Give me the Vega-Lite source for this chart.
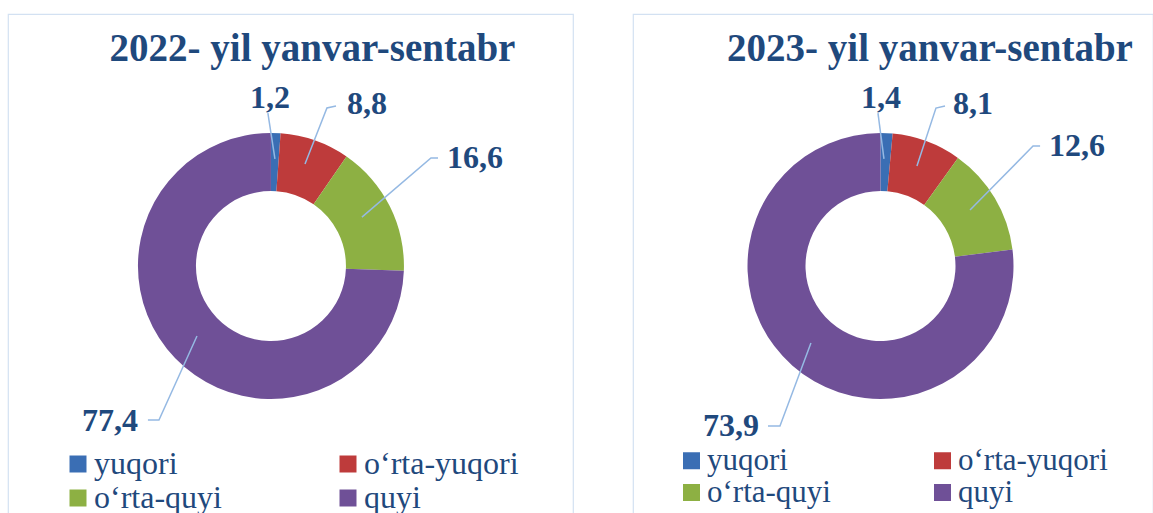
{
  "$schema": "https://vega.github.io/schema/vega-lite/v6.json",
  "padding": {"left": 7, "top": 13, "right": 0, "bottom": 0},
  "background": "white",
  "spacing": 58,
  "config": {"view": {"stroke": "#D3E1F2", "strokeWidth": 1.2}, "font": "Liberation Serif"},
  "datasets": {
    "slices": [
      {"year": 2022, "cat": "yuqori", "ord": 1, "value": 1.2},
      {"year": 2022, "cat": "o‘rta-yuqori", "ord": 2, "value": 8.8},
      {"year": 2022, "cat": "o‘rta-quyi", "ord": 3, "value": 16.6},
      {"year": 2022, "cat": "quyi", "ord": 4, "value": 77.4},
      {"year": 2023, "cat": "yuqori", "ord": 1, "value": 1.4},
      {"year": 2023, "cat": "o‘rta-yuqori", "ord": 2, "value": 8.1},
      {"year": 2023, "cat": "o‘rta-quyi", "ord": 3, "value": 12.6},
      {"year": 2023, "cat": "quyi", "ord": 4, "value": 73.9}
    ],
    "labels": [
      {"year": 2022, "text": "1,2", "u": -0.008, "v": 1.263},
      {"year": 2022, "text": "8,8", "u": 0.722, "v": 1.218},
      {"year": 2022, "text": "16,6", "u": 1.534, "v": 0.812},
      {"year": 2022, "text": "77,4", "u": -1.211, "v": -1.165},
      {"year": 2023, "text": "1,4", "u": 0.004, "v": 1.263},
      {"year": 2023, "text": "8,1", "u": 0.695, "v": 1.218},
      {"year": 2023, "text": "12,6", "u": 1.477, "v": 0.902},
      {"year": 2023, "text": "73,9", "u": -1.124, "v": -1.203}
    ],
    "leaders": [
      {"year": 2022, "id": "a", "i": 1, "u": 0.030, "v": 0.805},
      {"year": 2022, "id": "a", "i": 2, "u": -0.023, "v": 1.150},
      {"year": 2022, "id": "b", "i": 1, "u": 0.256, "v": 0.767},
      {"year": 2022, "id": "b", "i": 2, "u": 0.421, "v": 1.188},
      {"year": 2022, "id": "b", "i": 3, "u": 0.489, "v": 1.203},
      {"year": 2022, "id": "c", "i": 1, "u": 0.684, "v": 0.368},
      {"year": 2022, "id": "c", "i": 2, "u": 1.203, "v": 0.812},
      {"year": 2022, "id": "c", "i": 3, "u": 1.256, "v": 0.812},
      {"year": 2022, "id": "d", "i": 1, "u": -0.556, "v": -0.526},
      {"year": 2022, "id": "d", "i": 2, "u": -0.842, "v": -1.158},
      {"year": 2022, "id": "d", "i": 3, "u": -0.925, "v": -1.158},
      {"year": 2023, "id": "a", "i": 1, "u": 0.026, "v": 0.805},
      {"year": 2023, "id": "a", "i": 2, "u": -0.019, "v": 1.150},
      {"year": 2023, "id": "b", "i": 1, "u": 0.274, "v": 0.752},
      {"year": 2023, "id": "b", "i": 2, "u": 0.417, "v": 1.188},
      {"year": 2023, "id": "b", "i": 3, "u": 0.485, "v": 1.203},
      {"year": 2023, "id": "c", "i": 1, "u": 0.673, "v": 0.421},
      {"year": 2023, "id": "c", "i": 2, "u": 1.147, "v": 0.902},
      {"year": 2023, "id": "c", "i": 3, "u": 1.200, "v": 0.902},
      {"year": 2023, "id": "d", "i": 1, "u": -0.523, "v": -0.579},
      {"year": 2023, "id": "d", "i": 2, "u": -0.756, "v": -1.203},
      {"year": 2023, "id": "d", "i": 3, "u": -0.846, "v": -1.203}
    ]
  },
  "hconcat": [
    {
      "width": 565,
      "height": 500,
      "title": {"text": "2022- yil yanvar-sentabr", "font": "Liberation Serif", "fontSize": 39, "fontWeight": "bold", "color": "#1F497D", "anchor": "middle", "frame": "group", "offset": -55, "dx": 22},
      "layer": [
        {
          "data": {"name": "slices"},
          "transform": [{"filter": "datum.year == 2022"}],
          "mark": {"type": "arc", "outerRadius": 133, "innerRadius": 75},
          "encoding": {
            "x": {"datum": 0, "type": "quantitative", "scale": {"domain": [-1.977, 2.271], "nice": false, "zero": false}, "axis": null},
            "y": {"datum": 0, "type": "quantitative", "scale": {"domain": [-1.865, 1.895], "nice": false, "zero": false}, "axis": null},
            "theta": {"field": "value", "type": "quantitative", "stack": true},
            "order": {"field": "ord", "type": "quantitative"},
            "color": {
              "field": "cat", "type": "nominal",
              "scale": {"domain": ["yuqori", "o‘rta-yuqori", "o‘rta-quyi", "quyi"], "range": ["#3A6EB4", "#BE3B3B", "#8DB043", "#6F5097"]},
              "legend": {"orient": "none", "legendX": 54, "legendY": 434, "direction": "horizontal", "columns": 2, "columnPadding": 110, "rowPadding": 2, "symbolType": "square", "symbolSize": 289, "symbolStrokeWidth": 0, "labelFont": "Liberation Serif", "labelFontSize": 32, "labelColor": "#1F497D", "labelOffset": 0, "labelLimit": 0, "title": null, "padding": 0}
            }
          }
        },
        {
          "data": {"name": "leaders"},
          "transform": [{"filter": "datum.year == 2022"}],
          "mark": {"type": "line", "color": "#95B9E3", "strokeWidth": 1.5},
          "encoding": {
            "x": {"field": "u", "type": "quantitative"},
            "y": {"field": "v", "type": "quantitative"},
            "detail": {"field": "id"},
            "order": {"field": "i", "type": "quantitative"}
          }
        },
        {
          "data": {"name": "labels"},
          "transform": [{"filter": "datum.year == 2022"}],
          "mark": {"type": "text", "font": "Liberation Serif", "fontSize": 32, "fontWeight": "bold", "color": "#1F497D", "baseline": "middle", "align": "center"},
          "encoding": {
            "x": {"field": "u", "type": "quantitative"},
            "y": {"field": "v", "type": "quantitative"},
            "text": {"field": "text"}
          }
        }
      ]
    },
    {
      "width": 520,
      "height": 500,
      "title": {"text": "2023- yil yanvar-sentabr", "font": "Liberation Serif", "fontSize": 39, "fontWeight": "bold", "color": "#1F497D", "anchor": "middle", "frame": "group", "offset": -55, "dx": 37},
      "layer": [
        {
          "data": {"name": "slices"},
          "transform": [{"filter": "datum.year == 2023"}],
          "mark": {"type": "arc", "outerRadius": 133, "innerRadius": 75},
          "encoding": {
            "x": {"datum": 0, "type": "quantitative", "scale": {"domain": [-1.861, 2.049], "nice": false, "zero": false}, "axis": null},
            "y": {"datum": 0, "type": "quantitative", "scale": {"domain": [-1.865, 1.895], "nice": false, "zero": false}, "axis": null},
            "theta": {"field": "value", "type": "quantitative", "stack": true},
            "order": {"field": "ord", "type": "quantitative"},
            "color": {
              "field": "cat", "type": "nominal",
              "scale": {"domain": ["yuqori", "o‘rta-yuqori", "o‘rta-quyi", "quyi"], "range": ["#3A6EB4", "#BE3B3B", "#8DB043", "#6F5097"]},
              "legend": {"orient": "none", "legendX": 43, "legendY": 431, "direction": "horizontal", "columns": 2, "columnPadding": 96, "rowPadding": 0, "symbolType": "square", "symbolSize": 289, "symbolStrokeWidth": 0, "labelFont": "Liberation Serif", "labelFontSize": 31, "labelColor": "#1F497D", "labelOffset": 0, "labelLimit": 0, "title": null, "padding": 0}
            }
          }
        },
        {
          "data": {"name": "leaders"},
          "transform": [{"filter": "datum.year == 2023"}],
          "mark": {"type": "line", "color": "#95B9E3", "strokeWidth": 1.5},
          "encoding": {
            "x": {"field": "u", "type": "quantitative"},
            "y": {"field": "v", "type": "quantitative"},
            "detail": {"field": "id"},
            "order": {"field": "i", "type": "quantitative"}
          }
        },
        {
          "data": {"name": "labels"},
          "transform": [{"filter": "datum.year == 2023"}],
          "mark": {"type": "text", "font": "Liberation Serif", "fontSize": 32, "fontWeight": "bold", "color": "#1F497D", "baseline": "middle", "align": "center"},
          "encoding": {
            "x": {"field": "u", "type": "quantitative"},
            "y": {"field": "v", "type": "quantitative"},
            "text": {"field": "text"}
          }
        }
      ]
    }
  ],
  "resolve": {"scale": {"color": "independent", "x": "independent", "y": "independent"}, "legend": {"color": "independent"}}
}
